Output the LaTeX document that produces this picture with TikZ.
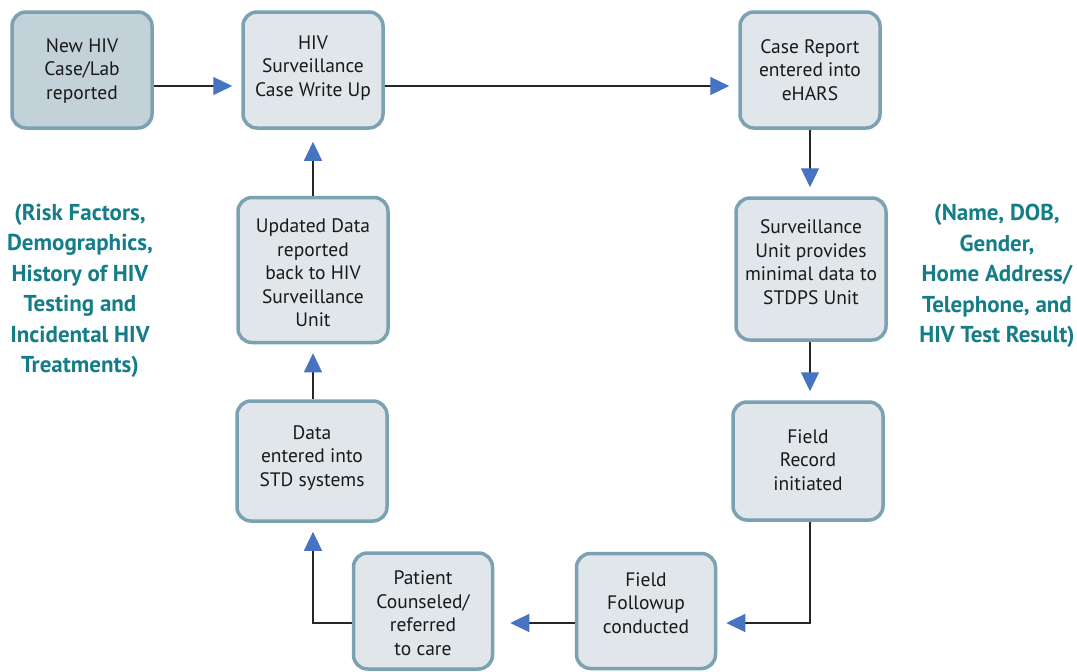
\documentclass[tikz,border=0pt]{standalone}
\usepackage{fontspec}
\setmainfont{PT Sans}
\usetikzlibrary{arrows.meta}
\definecolor{bordc}{HTML}{7BA2B2}
\definecolor{fillc}{HTML}{E1E6EA}
\definecolor{fillA}{HTML}{C3D1D9}
\definecolor{tealc}{HTML}{147D88}
\definecolor{arrblue}{HTML}{4674C2}
\tikzset{
  box/.style={draw=bordc, line width=3.5pt, fill=fillc, rounded corners=14pt, inner sep=0pt},
  btext/.style={align=center, font=\fontsize{19.5}{23.5}\selectfont, text=black!90},
  note/.style={align=center, font=\bfseries\fontsize{23}{30.5}\selectfont, text=tealc},
  arr/.style={line width=1.1pt, draw=black!85, -{Triangle[length=19pt,width=18pt,fill=arrblue,color=arrblue]}, shorten >=9pt}
}
\begin{document}
\begin{tikzpicture}[x=1pt,y=-1pt]
\useasboundingbox (0,0) rectangle (1077,672);
% boxes
\node[box, fill=fillA, minimum width=140pt, minimum height=116pt] (b1) at (82,70) {};
\node[box, minimum width=140pt, minimum height=116pt] (b2) at (313,70) {};
\node[box, minimum width=140pt, minimum height=116pt] (b3) at (810,70) {};
\node[box, minimum width=150pt, minimum height=142pt] (b4) at (811,269) {};
\node[box, minimum width=150pt, minimum height=118pt] (b5) at (808,461) {};
\node[box, minimum width=139pt, minimum height=115pt] (b6) at (646,611) {};
\node[box, minimum width=139pt, minimum height=116pt] (b7) at (423,611) {};
\node[box, minimum width=150pt, minimum height=120pt] (b8) at (312,461) {};
\node[box, minimum width=150pt, minimum height=145pt] (b9) at (313,270) {};
% texts
\node[btext] (t1) at (82,71) {New HIV\\Case/Lab\\reported};
\node[btext] (t2) at (313,68) {HIV\\Surveillance\\Case Write Up};
\node[btext] (t3) at (810,70) {Case Report\\entered into\\eHARS};
\node[btext] (t4) at (811,262) {Surveillance\\Unit provides\\minimal data to\\STDPS Unit};
\node[btext] (t5) at (808,460) {Field\\Record\\initiated};
\node[btext] (t6) at (646,603) {Field\\Followup\\conducted};
\node[btext] (t7) at (423,613) {Patient\\Counseled/\\referred\\to care};
\node[btext] (t8) at (312,458) {Data\\entered into\\STD systems};
\node[btext] (t9) at (313,273) {Updated Data\\reported\\back to HIV\\Surveillance\\Unit};
% notes
\node[note] (n1) at (80,291) {(Risk Factors,\\Demographics,\\History of HIV\\Testing and\\Incidental HIV\\Treatments)};
\node[note] (n2) at (997,276) {(Name, DOB,\\Gender,\\Home Address/\\Telephone, and\\HIV Test Result)};
% connectors
\coordinate (c3) at (810,128);
\coordinate (c5) at (810,623);
\coordinate (c7) at (313,623);
\draw[arr] ([yshift=-16pt]b1.east) -- ([yshift=-16pt]b2.west);
\draw[arr] ([yshift=-16pt]b2.east) -- ([yshift=-16pt]b3.west);
\draw[arr] (b3.south -| c3) -- (b4.north -| c3);
\draw[arr] (b4.south -| c3) -- (b5.north -| c3);
\draw[arr] (b5.south -| c3) -- (c5) -- (c5 -| b6.east);
\draw[arr, shorten >=16pt] (c5 -| b6.west) -- (c5 -| b7.east);
\draw[arr] (c5 -| b7.west) -- (c7) -- (b8.south -| c7);
\draw[arr] (b8.north -| c7) -- (b9.south -| c7);
\draw[arr, shorten >=12pt] (b9.north -| c7) -- (b2.south -| c7);
\end{tikzpicture}
\end{document}
